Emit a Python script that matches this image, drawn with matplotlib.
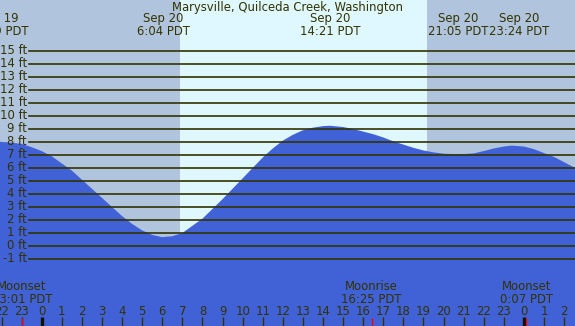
import matplotlib
matplotlib.use("Agg")
import matplotlib.pyplot as plt

# ---- data ----
title = "Marysville, Quilceda Creek, Washington"
hours = [-2.08, -2.0, -1.5, -1.0, -0.5, 0.0, 0.5, 1.0, 1.5, 2.0, 2.5, 3.0, 3.5, 4.0, 4.5,
         5.0, 5.5, 6.0, 6.5, 7.0, 7.5, 8.0, 8.5, 9.0, 9.5, 10.0, 10.5, 11.0, 11.5,
         12.0, 12.5, 13.0, 13.5, 14.0, 14.35, 15.0, 15.5, 16.0, 16.5, 17.0, 17.5,
         18.0, 18.5, 19.0, 19.5, 20.0, 20.5, 21.0, 21.5, 22.0, 22.5, 23.0, 23.4,
         24.0, 24.5, 25.0, 25.5, 26.0, 26.55]
heights = [8.02, 8.0, 7.95, 7.85, 7.6, 7.3, 6.9, 6.35, 5.8, 5.1, 4.4, 3.7, 3.0, 2.3, 1.7,
           1.2, 0.85, 0.68, 0.75, 1.0, 1.55, 2.1, 2.85, 3.6, 4.4, 5.2, 6.0, 6.8, 7.5,
           8.1, 8.55, 8.9, 9.1, 9.22, 9.25, 9.15, 9.0, 8.8, 8.6, 8.35, 8.05,
           7.8, 7.55, 7.35, 7.2, 7.1, 7.07, 7.07, 7.12, 7.3, 7.5, 7.65, 7.72,
           7.65, 7.45, 7.15, 6.85, 6.45, 6.0]
sunrise = 6.883   # 6:53
sunset = 19.183   # 19:11
ft_levels = list(range(-1, 16))
tide_label_x = [-2.18, 6.07, 14.35, 20.72, 23.78]
tide_labels = ["Sep 19\n21:49 PDT", "Sep 20\n6:04 PDT", "Sep 20\n14:21 PDT",
               "Sep 20\n21:05 PDT", "Sep 20\n23:24 PDT"]
moon_times = [-0.983, 16.417, 24.117]
moon_labels = ["Moonset\n23:01 PDT", "Moonrise\n16:25 PDT", "Moonset\n0:07 PDT"]
hour_ticks = list(range(-2, 27))
hour_labels = [str(h % 24) for h in hour_ticks]

# ---- style ----
night = "#B0C4DE"
day = "#DFF7FF"
water = "#4161D6"
ink = "#333300"
fs = 8.4

fig = plt.figure(figsize=(5.75, 3.26), dpi=100)
ax = fig.add_axes([0, 0, 1, 1])
x0, x1 = -2.076, 26.545
ax.set_xlim(x0, x1)
ax.set_ylim(-6.154, 18.92)
ax.axis("off")
ax.add_patch(plt.Rectangle((0, 0), 1, 1, transform=ax.transAxes, color=night, zorder=0))
ax.axvspan(sunrise, sunset, color=day, zorder=1, lw=0)

ax.fill_between(hours, heights, -10, color=water, lw=0, zorder=2)

xmin_frac = 29 / 575
for lv in ft_levels:
    ax.axhline(lv, xmin=xmin_frac, xmax=1, color=ink, lw=1.2, zorder=3)
    ax.text(x0 + (27 / 575) * (x1 - x0), lv, f"{lv} ft", ha="right", va="center",
            fontsize=fs, color=ink, zorder=4)

ax.text(0.5, 1 - 7.5 / 326, title, transform=ax.transAxes, ha="center", va="center",
        fontsize=fs, color=ink)
for xl, lab in zip(tide_label_x, tide_labels):
    ax.text(xl, 1 - 25 / 326, lab, transform=ax.get_xaxis_transform(), ha="center",
            va="center", fontsize=fs, color=ink, linespacing=1.0)

for mt, lab in zip(moon_times, moon_labels):
    ax.text(mt, 1 - 293 / 326, lab, transform=ax.get_xaxis_transform(), ha="center",
            va="center", fontsize=fs, color=ink, linespacing=1.0, zorder=5)
    ax.vlines(mt, 0, 8 / 326, transform=ax.get_xaxis_transform(), color="red",
              lw=1.0, zorder=6)

for h, lab in zip(hour_ticks, hour_labels):
    ax.text(h, 1 - 311.5 / 326, lab, transform=ax.get_xaxis_transform(), ha="center",
            va="center", fontsize=fs, color=ink, zorder=5)
    lw = 2.4 if h % 24 == 0 else 1.0
    col = "#111100" if h % 24 == 0 else ink
    ax.vlines(h, 0, 9 / 326, transform=ax.get_xaxis_transform(), color=col, lw=lw, zorder=5)

fig.savefig("out.png", dpi=100)
